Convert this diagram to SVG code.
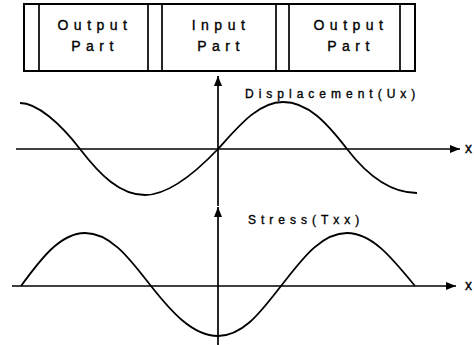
<svg xmlns="http://www.w3.org/2000/svg" width="474" height="345" viewBox="0 0 474 345">
<style>
.box{fill:#fff;stroke:#000;stroke-width:2}
.div{stroke:#000;stroke-width:1.7}
.ax{stroke:#000;stroke-width:1.7;fill:none}
.crv{stroke:#000;stroke-width:1.8;fill:none}
.bt{font-family:"Liberation Sans",Arial,sans-serif;font-size:14px;letter-spacing:5.5px;text-anchor:middle;fill:#000;stroke:#000;stroke-width:0.35}
.lb{font-family:"Liberation Sans",Arial,sans-serif;font-size:12px;letter-spacing:5px;fill:#000;stroke:#000;stroke-width:0.35}
.xl{font-family:"Liberation Sans",Arial,sans-serif;font-size:14px;fill:#000;stroke:#000;stroke-width:0.35}
</style>
<defs>
<marker id="ah" viewBox="0 0 10 8" refX="10" refY="4" markerWidth="10" markerHeight="8" markerUnits="userSpaceOnUse" orient="auto">
<path d="M0,0 L10,4 L0,8 Z" fill="#000"/>
</marker>
</defs>
<g id="bar">
<rect class="box" x="24" y="4" width="391" height="67"/>
<line class="div" x1="39" y1="4" x2="39" y2="71"/>
<line class="div" x1="148" y1="4" x2="148" y2="71"/>
<line class="div" x1="162" y1="4" x2="162" y2="71"/>
<line class="div" x1="276" y1="4" x2="276" y2="71"/>
<line class="div" x1="289" y1="4" x2="289" y2="71"/>
<line class="div" x1="400" y1="4" x2="400" y2="71"/>
</g>
<g id="out1"><text class="bt" x="95" y="30">Output</text><text class="bt" x="95" y="51">Part</text></g>
<g id="in"><text class="bt" x="221" y="30">Input</text><text class="bt" x="221" y="51">Part</text></g>
<g id="out2"><text class="bt" x="351" y="30">Output</text><text class="bt" x="351" y="51">Part</text></g>
<g id="connectors">
<line class="ax" x1="218" y1="206" x2="218" y2="76" marker-end="url(#ah)"/>
<line class="ax" x1="16" y1="149" x2="460" y2="149" marker-end="url(#ah)"/>
<line class="ax" x1="218" y1="345" x2="218" y2="207" marker-end="url(#ah)"/>
<line class="ax" x1="12" y1="286" x2="456" y2="286" marker-end="url(#ah)"/>
</g>
<g id="disp">
<path class="crv" d="M20,103 C37,103 60,123 80,149 C100,175 120,195 145,195 C170,195 198,170 218,149 C238,127 258,102 283,102 C308,102 327,123 347,149 C367,175 390,193 417,193"/>
<text class="lb" x="245" y="98">Displacement(Ux)</text>
<text class="xl" x="465" y="153">x</text>
</g>
<g id="stress">
<path class="crv" d="M21,286 C40,260 60,233 85,233 C112,233 132,262 151,286 C170,310 192,336 218,336 C244,336 262,310 281,286 C300,262 320,233 347,233 C372,233 392,258 415,286"/>
<text class="lb" x="248" y="224">Stress(Txx)</text>
<text class="xl" x="465" y="290">x</text>
</g>
</svg>
